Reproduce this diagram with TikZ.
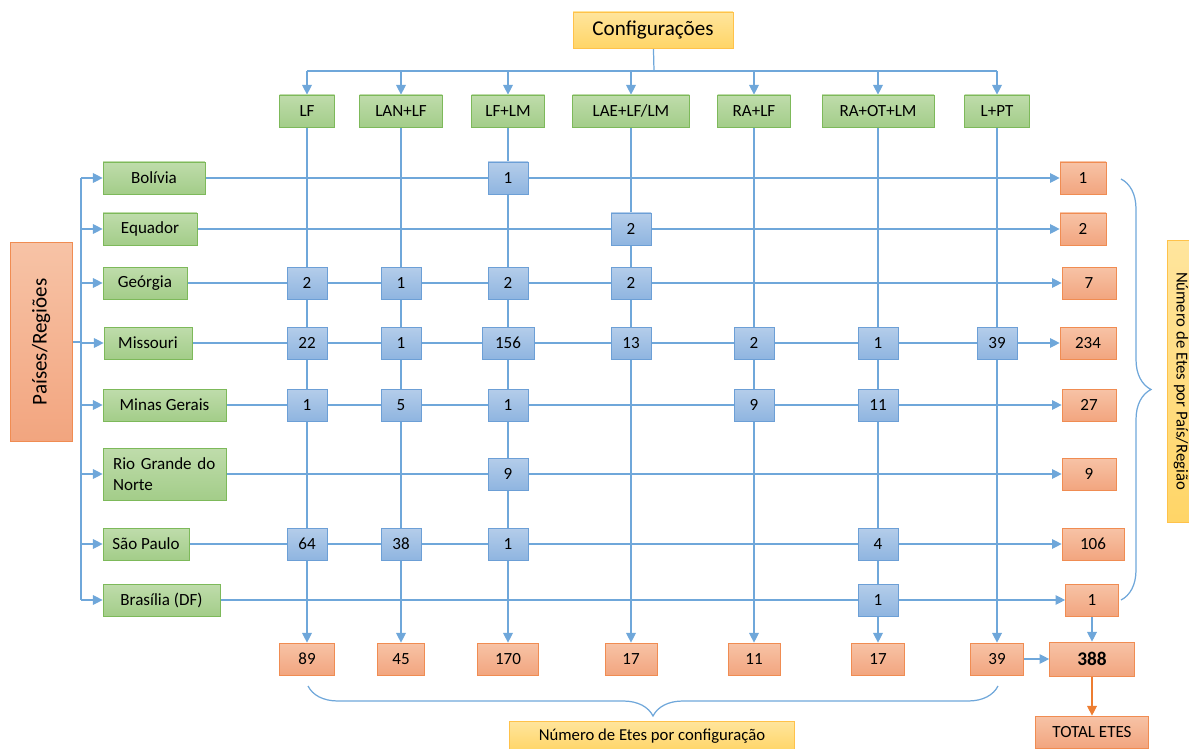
\documentclass[tikz,border=0pt]{standalone}
\usepackage{fontspec}
\setmainfont{Carlito}
\usetikzlibrary{arrows.meta,backgrounds,decorations.pathreplacing}
\definecolor{grnA}{HTML}{BFDCAB}
\definecolor{grnB}{HTML}{A3CD89}
\definecolor{grnE}{HTML}{7DB95A}
\definecolor{bluA}{HTML}{B4CDEA}
\definecolor{bluB}{HTML}{8FB5E0}
\definecolor{bluE}{HTML}{6C9FD6}
\definecolor{orgA}{HTML}{F7C3A6}
\definecolor{orgB}{HTML}{F2A57F}
\definecolor{orgE}{HTML}{F08C52}
\definecolor{ylwA}{HTML}{FFE59D}
\definecolor{ylwB}{HTML}{FFD567}
\definecolor{ylwE}{HTML}{FFC24A}
\definecolor{lnc}{HTML}{6FA7DA}
\definecolor{orgL}{HTML}{ED7D31}
\tikzset{
  gnode/.style={rectangle,draw=grnE,top color=grnA,bottom color=grnB,minimum height=0.64cm,inner sep=1pt,font=\fontsize{9.7}{12}\selectfont},
  cnode/.style={rectangle,draw=bluE,top color=bluA,bottom color=bluB,minimum width=0.8cm,minimum height=0.64cm,inner sep=1pt,font=\fontsize{9.7}{11}\selectfont},
  onode/.style={rectangle,draw=orgE,top color=orgA,bottom color=orgB,minimum width=1.06cm,minimum height=0.64cm,inner sep=1pt,font=\fontsize{9.7}{11}\selectfont},
  ynode/.style={rectangle,draw=ylwE,top color=ylwA,bottom color=ylwB,inner sep=1pt,font=\fontsize{9.5}{11}\selectfont},
  ln/.style={draw=lnc,line width=0.7pt},
  ar/.style={ln,-{Triangle[length=5.5pt,width=5.5pt]}},
  oar/.style={draw=orgL,line width=0.7pt,-{Triangle[length=5.5pt,width=5.5pt]}},
  brc/.style={ln,decorate,decoration={brace,amplitude=0.6cm}}
}
\begin{document}
\begin{tikzpicture}[x=0.02cm,y=-0.02cm]
\useasboundingbox (0,0) rectangle (1189,749);
% configurations
\node[ynode,minimum width=3.2cm,minimum height=0.72cm,font=\fontsize{12}{14}\selectfont] (cfg) at (653,30) {Configurações};
\node[gnode,minimum width=1.1cm] (cLF) at (307,111) {LF};
\node[gnode,minimum width=1.66cm] (cLAN) at (401,111) {LAN+LF};
\node[gnode,minimum width=1.46cm] (cLM) at (508,111) {LF+LM};
\node[gnode,minimum width=2.34cm] (cLAE) at (631,111) {LAE+LF/LM};
\node[gnode,minimum width=1.46cm] (cRA) at (754,111) {RA+LF};
\node[gnode,minimum width=2.24cm] (cOT) at (878,111) {RA+OT+LM};
\node[gnode,minimum width=1.3cm] (cPT) at (997,111) {L+PT};
\coordinate (tbus) at (654,71);
% regions
\node[onode,minimum width=1.24cm,minimum height=3.98cm,font=\fontsize{12}{14}\selectfont] (pr) at (41,342) {\rotatebox{90}{Países/Regiões}};
\coordinate (lbus) at (81,342);
\node[gnode,minimum width=2.04cm] (rBO) at (154,178) {Bolívia};
\node[gnode,minimum width=1.88cm] (rEQ) at (150,229) {Equador};
\node[gnode,minimum width=1.68cm] (rGE) at (145,283) {Geórgia};
\node[gnode,minimum width=1.76cm] (rMO) at (148,343) {Missouri};
\node[gnode,minimum width=2.46cm] (rMG) at (164.5,405) {Minas Gerais};
\node[gnode,text width=2.06cm,align=left,inner xsep=0.2cm,minimum height=1.04cm] (rRN) at (164.5,474) {Rio Grande do\\Norte};
\node[gnode,minimum width=1.72cm] (rSP) at (146,544) {São Paulo};
\node[gnode,minimum width=2.34cm] (rDF) at (161.5,600) {Brasília (DF)};
% cells
\node[cnode] (boLM) at (508,178) {1};
\node[cnode] (eqLAE) at (631,229) {2};
\node[cnode] (geLF) at (307,283) {2};
\node[cnode] (geLAN) at (401,283) {1};
\node[cnode] (geLM) at (508,283) {2};
\node[cnode] (geLAE) at (631,283) {2};
\node[cnode] (moLF) at (307,343) {22};
\node[cnode] (moLAN) at (401,343) {1};
\node[cnode,minimum width=1.04cm] (moLM) at (508,343) {156};
\node[cnode] (moLAE) at (631,343) {13};
\node[cnode] (moRA) at (754,343) {2};
\node[cnode] (moOT) at (878,343) {1};
\node[cnode] (moPT) at (997,343) {39};
\node[cnode] (mgLF) at (307,405) {1};
\node[cnode] (mgLAN) at (401,405) {5};
\node[cnode] (mgLM) at (508,405) {1};
\node[cnode] (mgRA) at (754,405) {9};
\node[cnode] (mgOT) at (878,405) {11};
\node[cnode] (rnLM) at (508,474) {9};
\node[cnode] (spLF) at (307,544) {64};
\node[cnode] (spLAN) at (401,544) {38};
\node[cnode] (spLM) at (508,544) {1};
\node[cnode] (spOT) at (878,544) {4};
\node[cnode] (dfOT) at (878,600) {1};
% totals per region
\node[onode,minimum width=0.92cm] (tBO) at (1083,178) {1};
\node[onode,minimum width=0.92cm] (tEQ) at (1083,229) {2};
\node[onode,minimum width=1.08cm] (tGE) at (1089,283) {7};
\node[onode,minimum width=1.12cm] (tMO) at (1088,343) {234};
\node[onode,minimum width=1.08cm] (tMG) at (1089,405) {27};
\node[onode,minimum width=1.08cm] (tRN) at (1089,474) {9};
\node[onode,minimum width=1.24cm] (tSP) at (1093,544) {106};
\node[onode] (tDF) at (1092,600) {1};
% totals per configuration
\node[onode,minimum width=1.1cm] (bLF) at (307,659) {89};
\node[onode,minimum width=0.94cm] (bLAN) at (401,659) {45};
\node[onode,minimum width=1.22cm] (bLM) at (508,659) {170};
\node[onode,minimum width=1.04cm] (bLAE) at (631,659) {17};
\node[onode,minimum width=1.04cm] (bRA) at (754,659) {11};
\node[onode] (bOT) at (878,659) {17};
\node[onode] (bPT) at (997,659) {39};
\node[onode,minimum width=1.7cm,minimum height=0.68cm,font=\fontsize{11}{12}\bfseries] (tot) at (1092,659) {388};
\node[onode,minimum width=2.26cm] (totE) at (1092,732) {TOTAL ETES};
% axis labels
\node[ynode,minimum width=5.7cm,minimum height=0.6cm] (nCfg) at (652,736) {Número de Etes por configuração};
\node[ynode,minimum width=0.56cm,minimum height=5.64cm] (nReg) at (1181,381) {\rotatebox{-90}{Número de Etes por País/Região}};
\begin{scope}[on background layer]
% top bus
\draw[ln] (cfg) -- (tbus);
\draw[ln] (cLF |- tbus) -- (cPT |- tbus);
\draw[ar] (cLF |- tbus) -- (cLF);
\draw[ar] (cLAN |- tbus) -- (cLAN);
\draw[ar] (cLM |- tbus) -- (cLM);
\draw[ar] (cLAE |- tbus) -- (cLAE);
\draw[ar] (cRA |- tbus) -- (cRA);
\draw[ar] (cOT |- tbus) -- (cOT);
\draw[ar] (cPT |- tbus) -- (cPT);
% left bus
\draw[ln] (pr) -- (lbus);
\draw[ln] (lbus |- rBO) -- (lbus |- rDF);
\draw[ar] (lbus |- rBO) -- (rBO);
\draw[ar] (lbus |- rEQ) -- (rEQ);
\draw[ar] (lbus |- rGE) -- (rGE);
\draw[ar] (lbus |- rMO) -- (rMO);
\draw[ar] (lbus |- rMG) -- (rMG);
\draw[ar] (lbus |- rRN) -- (rRN);
\draw[ar] (lbus |- rSP) -- (rSP);
\draw[ar] (lbus |- rDF) -- (rDF);
% columns
\draw[ar] (cLF) -- (bLF);
\draw[ar] (cLAN) -- (bLAN);
\draw[ar] (cLM) -- (bLM);
\draw[ar] (cLAE) -- (bLAE);
\draw[ar] (cRA) -- (bRA);
\draw[ar] (cOT) -- (bOT);
\draw[ar] (cPT) -- (bPT);
% rows
\draw[ar] (rBO) -- (tBO);
\draw[ar] (rEQ) -- (tEQ);
\draw[ar] (rGE) -- (tGE);
\draw[ar] (rMO) -- (tMO);
\draw[ar] (rMG) -- (tMG);
\draw[ar] (rRN) -- (tRN);
\draw[ar] (rSP) -- (tSP);
\draw[ar] (rDF) -- (tDF);
% grand total
\draw[ar] (bPT) -- (tot);
\draw[ar] (tDF) -- (tot);
\draw[oar] (tot) -- (totE);
\end{scope}
% braces
\draw[brc] (1121,179) -- (1121,600);
\draw[brc] (998,686) -- (308,686);
\end{tikzpicture}
\end{document}
